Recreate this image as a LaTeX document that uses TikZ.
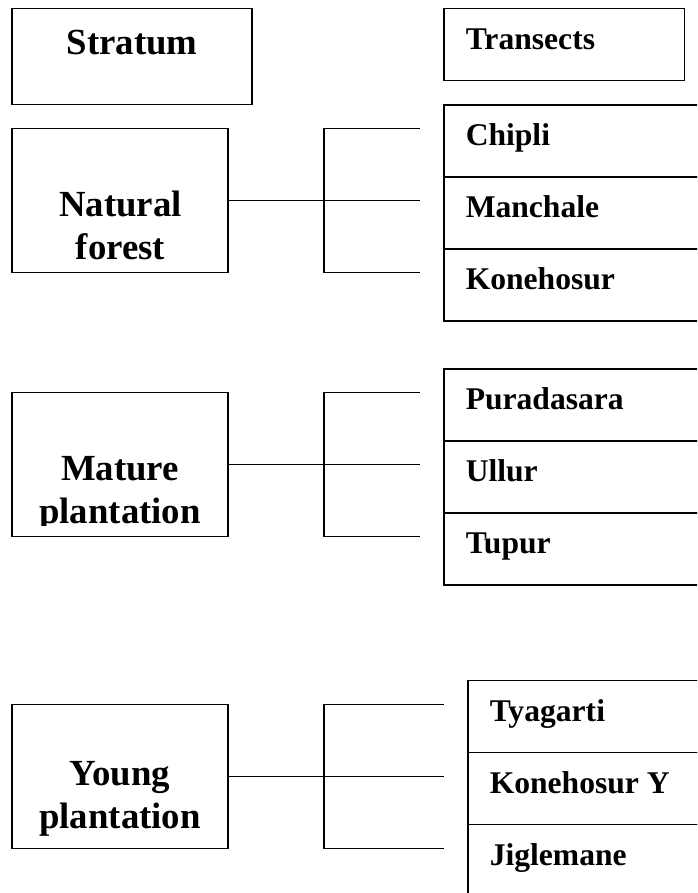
\documentclass[tikz,border=0pt]{standalone}
\usepackage{fontspec}
\setmainfont{Liberation Serif}
\begin{document}
\begin{tikzpicture}[x=1pt,y=-1pt,line width=1.5pt,
  box/.style={draw,rectangle,inner sep=0pt,outer sep=0pt},
  cell/.style={box,minimum width=276pt,minimum height=72pt},
  stratlab/.style={inner sep=0pt,font=\bfseries\fontsize{36.8}{42.5}\selectfont,align=center},
  itemlab/.style={inner sep=0pt,anchor=base west,font=\bfseries\fontsize{31.6}{36}\selectfont},
  link/.style={draw,line width=1.5pt}]
\clip (0,0) rectangle (697,893);
% headers
\node[box,minimum width=240pt,minimum height=96pt] (stratum) at (132,56.3) {};
\node[stratlab,anchor=base] at ([yshift=-46.7pt]stratum.north) {Stratum};
\node[box,minimum width=240.4pt,minimum height=72pt] (transects) at (564.2,44.3) {};
\node[itemlab] at ([shift={(21pt,-41.7pt)}]transects.north west) {Transects};
% strata boxes
\node[box,minimum width=216pt,minimum height=144.4pt] (nf) at (120,200.5) {};
\node[box,minimum width=216pt,minimum height=144.4pt] (mp) at (120,464.5) {};
\node[box,minimum width=216pt,minimum height=144pt] (yp) at (120,776.7) {};
\node[stratlab,anchor=base] at (120.5,216.7) {Natural};
\node[stratlab,anchor=base] at (120.5,259.3) {forest};
\node[stratlab,anchor=base] at (120,480.7) {Mature};
\begin{scope}
\clip (14,470) rectangle (226,525);
\node[stratlab,anchor=base] at (120,523.3) {plantation};
\end{scope}
\node[stratlab,anchor=base] at (120,785.7) {Young};
\node[stratlab,anchor=base] at (120,828.3) {plantation};
% transect cells
\node[cell,anchor=north west] (c1) at (444,105) {};
\node[cell,anchor=north west] (c2) at (444,177) {};
\node[cell,anchor=north west] (c3) at (444,249) {};
\node[cell,anchor=north west] (c4) at (444,369) {};
\node[cell,anchor=north west] (c5) at (444,441) {};
\node[cell,anchor=north west] (c6) at (444,513) {};
\node[cell,anchor=north west] (c7) at (468,680.7) {};
\node[cell,anchor=north west] (c8) at (468,752.7) {};
\node[cell,anchor=north west] (c9) at (468,824.7) {};
\node[itemlab] at ([shift={(21pt,-40.7pt)}]c1.north west) {Chipli};
\node[itemlab] at ([shift={(21pt,-40.7pt)}]c2.north west) {Manchale};
\node[itemlab] at ([shift={(21pt,-40.7pt)}]c3.north west) {Konehosur};
\node[itemlab] at ([shift={(21pt,-40.7pt)}]c4.north west) {Puradasara};
\node[itemlab] at ([shift={(21pt,-40.7pt)}]c5.north west) {Ullur};
\node[itemlab] at ([shift={(21pt,-40.7pt)}]c6.north west) {Tupur};
\node[itemlab] at ([shift={(21pt,-40.7pt)}]c7.north west) {Tyagarti};
\node[itemlab] at ([shift={(21pt,-40.7pt)}]c8.north west) {Konehosur Y};
\node[itemlab] at ([shift={(21pt,-40.7pt)}]c9.north west) {Jiglemane};
% bracket connectors
\coordinate (nfT) at (420,128.3); \coordinate (nfM) at (420,200.5); \coordinate (nfB) at (420,272.7);
\coordinate (nfX) at (324,0);
\draw[link] (nf.east) -- (nfM);
\draw[link] (nfT) -- (nfT -| nfX) -- (nfB -| nfX) -- (nfB);
\coordinate (mpT) at (420,392.3); \coordinate (mpM) at (420,464.5); \coordinate (mpB) at (420,536.7);
\draw[link] (mp.east) -- (mpM);
\draw[link] (mpT) -- (mpT -| nfX) -- (mpB -| nfX) -- (mpB);
\coordinate (ypT) at (444,704.7); \coordinate (ypM) at (444,776.7); \coordinate (ypB) at (444,848.7);
\draw[link] (yp.east) -- (ypM);
\draw[link] (ypT) -- (ypT -| nfX) -- (ypB -| nfX) -- (ypB);
\end{tikzpicture}
\end{document}
